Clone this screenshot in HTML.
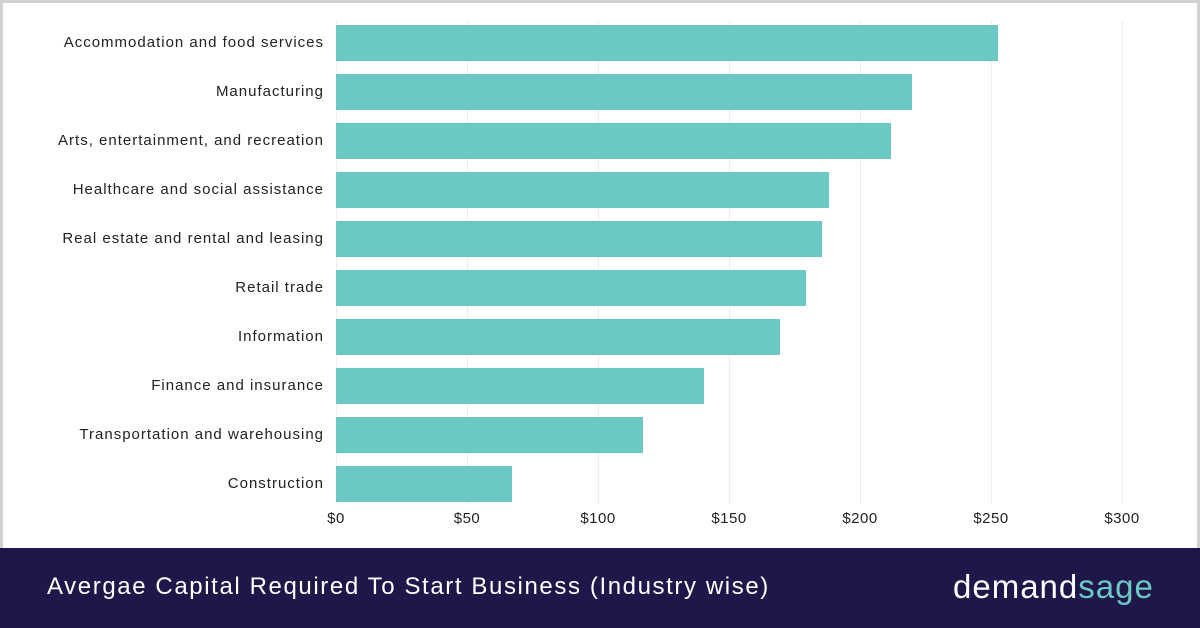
<!DOCTYPE html>
<html><head><meta charset="utf-8"><style>
*{margin:0;padding:0}
body{width:1200px;height:628px;position:relative;overflow:hidden;background:#fff;font-family:"Liberation Sans",sans-serif}
.frame{position:absolute;left:0;top:0;width:1194px;height:545px;border:3px solid #d2d2d2;border-bottom:none;background:#fff}
.grid{position:absolute;top:20px;height:484px;width:1px;background:#eeeeee}
.bar{position:absolute;left:336px;height:36px;background:#6cc8c3}
.lab{position:absolute;right:876px;font-size:15px;letter-spacing:1px;color:#222;line-height:36px;white-space:nowrap}
.tick{position:absolute;top:510px;font-size:15px;letter-spacing:0.5px;color:#222;width:80px;text-align:center;margin-left:-40px}
.foot{position:absolute;left:0;top:548px;width:1200px;height:80px;background:#1f174a}
.title{position:absolute;left:47px;top:573px;font-size:24px;letter-spacing:1.6px;color:#fff;white-space:nowrap}
.logo{position:absolute;left:953px;top:568px;font-size:33px;color:#fff;letter-spacing:1px}
.logo span{color:#6cc8c3}
</style></head><body>
<div class="frame"></div>
<div class="grid" style="left:336px"></div><div class="grid" style="left:467px"></div><div class="grid" style="left:598px"></div><div class="grid" style="left:729px"></div><div class="grid" style="left:860px"></div><div class="grid" style="left:991px"></div><div class="grid" style="left:1122px"></div>
<div class="bar" style="top:25px;width:662px"></div><div class="lab" style="top:25px">Accommodation and food services</div>
<div class="bar" style="top:74px;width:576px"></div><div class="lab" style="top:74px">Manufacturing</div>
<div class="bar" style="top:123px;width:555px"></div><div class="lab" style="top:123px">Arts, entertainment, and recreation</div>
<div class="bar" style="top:172px;width:493px"></div><div class="lab" style="top:172px">Healthcare and social assistance</div>
<div class="bar" style="top:221px;width:486px"></div><div class="lab" style="top:221px">Real estate and rental and leasing</div>
<div class="bar" style="top:270px;width:470px"></div><div class="lab" style="top:270px">Retail trade</div>
<div class="bar" style="top:319px;width:444px"></div><div class="lab" style="top:319px">Information</div>
<div class="bar" style="top:368px;width:368px"></div><div class="lab" style="top:368px">Finance and insurance</div>
<div class="bar" style="top:417px;width:307px"></div><div class="lab" style="top:417px">Transportation and warehousing</div>
<div class="bar" style="top:466px;width:176px"></div><div class="lab" style="top:466px">Construction</div>
<div class="tick" style="left:336px">$0</div><div class="tick" style="left:467px">$50</div><div class="tick" style="left:598px">$100</div><div class="tick" style="left:729px">$150</div><div class="tick" style="left:860px">$200</div><div class="tick" style="left:991px">$250</div><div class="tick" style="left:1122px">$300</div>
<div class="foot"></div>
<div class="title">Avergae Capital Required To Start Business (Industry wise)</div>
<div class="logo">demand<span>sage</span></div>
</body></html>
